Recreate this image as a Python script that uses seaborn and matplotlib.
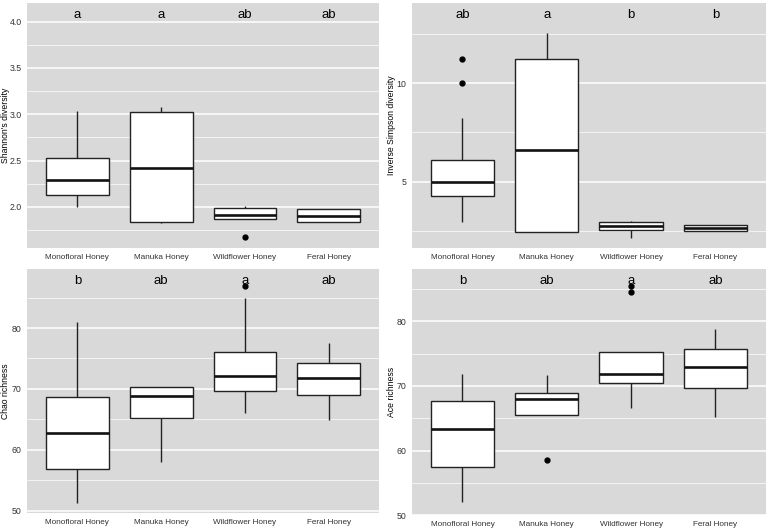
import pandas as pd
import matplotlib
matplotlib.use('Agg')
import matplotlib.pyplot as plt
from matplotlib.ticker import MultipleLocator
import seaborn as sns

# Kategori madu
groups = ['Monofloral Honey', 'Manuka Honey', 'Wildflower Honey', 'Feral Honey']

# Nilai sampel per kelompok
shannon_mono = [2.00, 2.08, 2.13, 2.20, 2.29, 2.40, 2.53, 2.75, 3.03]
shannon_manuka = [1.82, 1.83, 1.835, 2.10, 2.42, 2.80, 3.02, 3.05, 3.08]
shannon_wild = [1.67, 1.87, 1.87, 1.89, 1.91, 1.95, 1.99, 2.00, 2.01]
shannon_feral = [1.835, 1.835, 1.835, 1.87, 1.90, 1.94, 1.98, 1.98, 1.98]

invsimp_mono = [2.93, 3.5, 4.0, 4.24, 4.5, 4.8, 4.97, 5.3, 5.7, 6.08, 8.25, 10.0, 11.23]
invsimp_manuka = [2.46, 2.46, 2.46, 4.5, 6.62, 9.0, 11.23, 12.0, 12.54]
invsimp_wild = [2.15, 2.4, 2.56, 2.66, 2.76, 2.85, 2.93, 2.97, 3.0]
invsimp_feral = [2.48, 2.48, 2.48, 2.55, 2.63, 2.7, 2.79, 2.79, 2.79]

chao_mono = [51.26, 54.0, 56.9, 60.0, 62.74, 65.0, 68.67, 75.0, 81.0]
chao_manuka = [58.0, 62.0, 65.14, 67.0, 68.9, 69.6, 70.25, 70.25, 70.25]
chao_wild = [66.0, 68.0, 69.6, 71.0, 72.05, 74.0, 76.0, 84.9, 86.97]
chao_feral = [64.9, 67.0, 69.0, 70.5, 71.72, 73.0, 74.2, 76.0, 77.6]

ace_mono = [51.97, 55.0, 57.39, 60.0, 63.33, 66.0, 67.72, 70.0, 71.8]
ace_manuka = [58.57, 65.48, 65.48, 67.0, 67.93, 68.4, 68.85, 70.0, 71.7]
ace_wild = [66.55, 68.0, 69.5, 70.43, 71.0, 71.5, 71.92, 72.5, 74.0, 75.2, 75.2, 84.5, 85.5]
ace_feral = [65.2, 68.0, 69.7, 71.5, 73.0, 74.5, 75.8, 77.0, 78.8]

# Huruf signifikansi
shannon_letters = ['a', 'a', 'ab', 'ab']
invsimp_letters = ['ab', 'a', 'b', 'b']
chao_letters = ['b', 'ab', 'a', 'ab']
ace_letters = ['b', 'ab', 'a', 'ab']


def make_df(*vals):
    rows = []
    for g, v in zip(groups, vals):
        rows += [(g, x) for x in v]
    return pd.DataFrame(rows, columns=['Group', 'Value'])


panels = [
    (make_df(shannon_mono, shannon_manuka, shannon_wild, shannon_feral),
     "Shannon's diversity", shannon_letters, 4.07, (1.555, 4.2), 0.5, 0.25,
     [0.0352, 0.532, 0.459, 0.4623], -0.048),
    (make_df(invsimp_mono, invsimp_manuka, invsimp_wild, invsimp_feral),
     'Inverse Simpson diversity', invsimp_letters, 13.47, (1.62, 14.07), 5, 2.5,
     [0.537, 0.532, 0.4617, 0.4623], -0.045),
    (make_df(chao_mono, chao_manuka, chao_wild, chao_feral),
     'Chao richness', chao_letters, 87.7, (49.6, 89.7), 10, 5,
     [0.0352, 0.032, 0.459, 0.4605], -0.048),
    (make_df(ace_mono, ace_manuka, ace_wild, ace_feral),
     'Ace richness', ace_letters, 86.2, (50.0, 88.1), 10, 5,
     [0.537, 0.028, 0.4617, 0.4643], -0.045),
]

sns.set_style('white')
narrow = ['Liberation Sans Narrow', 'Liberation Sans', 'DejaVu Sans']
plt.rcParams['font.family'] = ['Liberation Sans', 'DejaVu Sans']

fig = plt.figure(figsize=(7.67, 5.30), dpi=100)

for df, ylab, letters, ly, ylim, major, minor, pos, labx in panels:
    ax = fig.add_axes(pos)
    ax.set_facecolor('#D9D9D9')
    ax.set_axisbelow(True)
    ax.set_ylim(*ylim)
    ax.yaxis.set_major_locator(MultipleLocator(major))
    ax.yaxis.set_minor_locator(MultipleLocator(minor))
    ax.grid(which='major', axis='both', color='white', linewidth=1.1)
    ax.grid(which='minor', axis='y', color='white', linewidth=0.5)

    sns.boxplot(data=df, x='Group', y='Value', order=groups, ax=ax,
                color='white', fill=True, width=0.75, linecolor='#222222',
                linewidth=1.0, showcaps=False,
                medianprops={'color': '#111111', 'linewidth': 1.9},
                flierprops={'marker': 'o', 'markerfacecolor': 'black',
                            'markeredgecolor': 'black', 'markersize': 3.5})

    for i, t in enumerate(letters):
        ax.text(i, ly, t, ha='center', va='center', fontsize=9.5, color='black')

    ax.set_xlim(-0.6, 3.6)
    ax.set_xlabel('')
    ax.set_ylabel(ylab, fontsize=6.2, color='black')
    ax.yaxis.set_label_coords(labx, 0.5)
    for s in ax.spines.values():
        s.set_visible(False)
    ax.tick_params(axis='both', which='major', length=2.5, width=0.8,
                   color='#333333', labelcolor='#333333', pad=1.5)
    ax.tick_params(axis='y', which='minor', length=0)
    for lab in ax.get_xticklabels():
        lab.set_fontfamily(narrow)
        lab.set_fontsize(5.9)
    for lab in ax.get_yticklabels():
        lab.set_fontfamily(narrow)
        lab.set_fontsize(6.3)

plt.savefig('out.png', dpi=100)
